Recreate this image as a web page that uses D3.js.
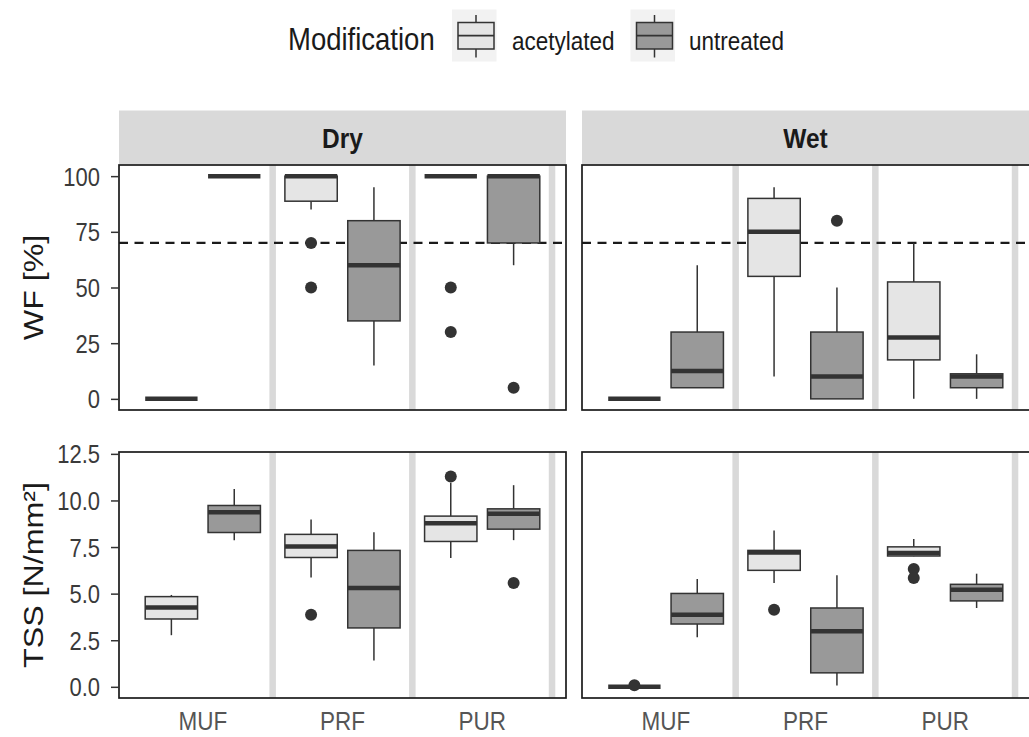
<!DOCTYPE html>
<html>
<head>
<meta charset="utf-8">
<script src="https://cdn.jsdelivr.net/npm/d3@7"></script>
<style>
  body { margin: 0; background: #fff; }
  svg { display: block; }
  text { font-family: "Liberation Sans", Arial, sans-serif; }
</style>
</head>
<body>
<div id="chart"></div>
<script>
// categories
const materials = ["MUF", "PRF", "PUR"];
const modifications = ["acetylated", "untreated"];
const conditions = ["Dry", "Wet"];

// box stats: [material, modification, lower whisker, q1, median, q3, upper whisker, outliers]
const wfDry = [
  ["MUF", "acetylated", 0, 0, 0, 0, 0, []],
  ["MUF", "untreated", 100, 100, 100, 100, 100, []],
  ["PRF", "acetylated", 85, 88.75, 100, 100, 100, [70, 50]],
  ["PRF", "untreated", 15, 35, 60, 80, 95, []],
  ["PUR", "acetylated", 100, 100, 100, 100, 100, [50, 30]],
  ["PUR", "untreated", 60, 70, 100, 100, 100, [5]]
];
const wfWet = [
  ["MUF", "acetylated", 0, 0, 0, 0, 0, []],
  ["MUF", "untreated", 5, 5, 12.5, 30, 60, []],
  ["PRF", "acetylated", 10, 55, 75, 90, 95, []],
  ["PRF", "untreated", 0, 0, 10, 30, 50, [80]],
  ["PUR", "acetylated", 0, 17.5, 27.5, 52.5, 70, []],
  ["PUR", "untreated", 0, 5, 10, 11.25, 20, []]
];
const tssDry = [
  ["MUF", "acetylated", 2.77, 3.64, 4.25, 4.84, 4.93, []],
  ["MUF", "untreated", 7.87, 8.28, 9.37, 9.73, 10.62, []],
  ["PRF", "acetylated", 5.86, 6.94, 7.53, 8.18, 8.98, [3.87]],
  ["PRF", "untreated", 1.41, 3.16, 5.3, 7.32, 8.3, []],
  ["PUR", "acetylated", 6.91, 7.8, 8.78, 9.16, 10.95, [11.28]],
  ["PUR", "untreated", 7.87, 8.46, 9.28, 9.55, 10.82, [5.57]]
];
const tssWet = [
  ["MUF", "acetylated", 0, 0, 0, 0, 0, [0.08]],
  ["MUF", "untreated", 2.66, 3.37, 3.87, 5.01, 5.78, []],
  ["PRF", "acetylated", 5.57, 6.25, 7.21, 7.32, 8.39, [4.14]],
  ["PRF", "untreated", 0.07, 0.75, 2.98, 4.23, 5.98, []],
  ["PUR", "acetylated", 7.0, 7.02, 7.18, 7.51, 7.93, [6.32, 5.84]],
  ["PUR", "untreated", 4.23, 4.61, 5.21, 5.5, 6.07, []]
];

// tick labels
const wfTicks = [0, 25, 50, 75, 100];
const wfTickLabels = ["0", "25", "50", "75", "100"];
const tssTicks = [0, 2.5, 5, 7.5, 10, 12.5];
const tssTickLabels = ["0.0", "2.5", "5.0", "7.5", "10.0", "12.5"];
const wfThreshold = 70;

const width = 1029, height = 737;
const SY = 1.15; // picture is a bit taller than wide, stretch the text the same way
const fills = { acetylated: "#e5e5e5", untreated: "#999999" };
const ink = "#333333";

const panelX = { Dry: [119, 566], Wet: [582, 1029] };
const rows = [
  { key: "wf", title: "WF [%]", top: 165, bottom: 410, domain: [-5, 105], ticks: wfTicks, labels: wfTickLabels,
    data: { Dry: wfDry, Wet: wfWet }, threshold: wfThreshold },
  { key: "tss", title: "TSS [N/mm²]", top: 452, bottom: 698, domain: [-0.6, 12.6], ticks: tssTicks, labels: tssTickLabels,
    data: { Dry: tssDry, Wet: tssWet } }
];

const svg = d3.select("#chart").append("svg")
  .attr("width", width)
  .attr("height", height)
  .attr("viewBox", [0, 0, width, height]);

function stretched(sel, x, y) {
  return sel.attr("transform", `translate(${x},${y}) scale(1,${SY})`);
}

// legend
stretched(svg.append("text"), 288, 49.5)
  .attr("font-size", 27.5).attr("fill", "#1a1a1a").text("Modification");

const legendKeys = [
  { mod: "acetylated", x0: 452, textX: 512 },
  { mod: "untreated", x0: 630.5, textX: 689 }
];
legendKeys.forEach(k => {
  const g = svg.append("g");
  g.append("rect").attr("x", k.x0).attr("y", 9.5).attr("width", 44.5).attr("height", 52).attr("fill", "#f2f2f2");
  const cx = k.x0 + 24;
  g.append("line").attr("x1", cx).attr("x2", cx).attr("y1", 15).attr("y2", 57.5)
    .attr("stroke", ink).attr("stroke-width", 1.5);
  g.append("rect").attr("x", k.x0 + 6).attr("y", 22.5).attr("width", 36).attr("height", 26.5)
    .attr("fill", fills[k.mod]).attr("stroke", ink).attr("stroke-width", 1.5);
  g.append("line").attr("x1", k.x0 + 6).attr("x2", k.x0 + 42).attr("y1", 35.7).attr("y2", 35.7)
    .attr("stroke", ink).attr("stroke-width", 1.8);
  stretched(g.append("text"), k.textX, 49.5)
    .attr("font-size", 22.5).attr("fill", "#1a1a1a").text(k.mod);
});

// strips (right one runs past the picture edge, as in the source)
conditions.forEach(c => {
  const [x0, x1] = panelX[c];
  const w = c === "Wet" ? x1 - x0 + 4 : x1 - x0;
  svg.append("rect").attr("x", x0).attr("y", 110.5).attr("width", w).attr("height", 53.5).attr("fill", "#d9d9d9");
  stretched(svg.append("text"), (x0 + x1) / 2, 148)
    .attr("font-size", 24.5).attr("font-weight", "bold").attr("fill", "#1a1a1a")
    .attr("text-anchor", "middle").text(c);
});

rows.forEach((row, ri) => {
  const y = d3.scaleLinear().domain(row.domain).range([row.bottom, row.top]);

  conditions.forEach((c, ci) => {
    const [x0, x1] = panelX[c];
    const x = d3.scaleBand(materials, [x0, x1]).paddingInner(0).paddingOuter(0.1);
    const step = x.step();
    const xd = d3.scaleBand(modifications, [-0.45 * step, 0.45 * step]);
    const boxW = xd.bandwidth() * 0.833;
    const frameW = c === "Wet" ? x1 - x0 + 4 : x1 - x0;
    const g = svg.append("g");

    g.append("rect").attr("x", x0).attr("y", row.top).attr("width", frameW).attr("height", row.bottom - row.top)
      .attr("fill", "#fff");

    // gray separators between materials
    g.append("g").selectAll("line")
      .data(materials)
      .join("line")
      .attr("x1", d => x(d) + step).attr("x2", d => x(d) + step)
      .attr("y1", row.top).attr("y2", row.bottom)
      .attr("stroke", "#d9d9d9").attr("stroke-width", 6.5);

    if (row.threshold !== undefined) {
      g.append("line")
        .attr("x1", x0).attr("x2", x1)
        .attr("y1", y(row.threshold)).attr("y2", y(row.threshold))
        .attr("stroke", "#1a1a1a").attr("stroke-width", 2.2).attr("stroke-dasharray", "9,6.5");
    }

    const boxes = row.data[c].map(d => ({
      mat: d[0], mod: d[1], lo: d[2], q1: d[3], med: d[4], q3: d[5], hi: d[6], out: d[7],
      cx: x(d[0]) + step / 2 + xd(d[1]) + xd.bandwidth() / 2
    }));

    const b = g.append("g").selectAll("g").data(boxes).join("g");
    b.append("line").attr("x1", d => d.cx).attr("x2", d => d.cx)
      .attr("y1", d => y(d.hi)).attr("y2", d => y(d.q3))
      .attr("stroke", ink).attr("stroke-width", 1.5);
    b.append("line").attr("x1", d => d.cx).attr("x2", d => d.cx)
      .attr("y1", d => y(d.q1)).attr("y2", d => y(d.lo))
      .attr("stroke", ink).attr("stroke-width", 1.5);
    b.append("rect")
      .attr("x", d => d.cx - boxW / 2).attr("width", boxW)
      .attr("y", d => y(d.q3)).attr("height", d => y(d.q1) - y(d.q3))
      .attr("fill", d => fills[d.mod]).attr("stroke", ink).attr("stroke-width", 1.5);
    b.append("line")
      .attr("x1", d => d.cx - boxW / 2).attr("x2", d => d.cx + boxW / 2)
      .attr("y1", d => y(d.med)).attr("y2", d => y(d.med))
      .attr("stroke", ink).attr("stroke-width", 4.5);
    b.selectAll("circle")
      .data(d => d.out.map(v => ({ cx: d.cx, v })))
      .join("circle")
      .attr("cx", d => d.cx).attr("cy", d => y(d.v)).attr("r", 6)
      .attr("fill", ink);

    // panel border
    g.append("rect").attr("x", x0).attr("y", row.top).attr("width", frameW).attr("height", row.bottom - row.top)
      .attr("fill", "none").attr("stroke", "#1a1a1a").attr("stroke-width", 1.7);

    if (ci === 0) {
      const ax = g.append("g")
        .attr("transform", `translate(${x0},0)`)
        .call(d3.axisLeft(y).tickValues(row.ticks).tickSize(8).tickPadding(11)
          .tickFormat((d, i) => row.labels[i]));
      ax.select(".domain").remove();
      ax.selectAll(".tick line").attr("stroke", ink).attr("stroke-width", 1.5);
      ax.selectAll(".tick text")
        .attr("font-size", 22).attr("fill", "#3a3a3a")
        .attr("dy", "0.36em").attr("transform", `scale(1,${SY})`);
      ax.attr("font-family", null).attr("font-size", null);

      svg.append("text")
        .attr("transform", `translate(43,${(row.top + row.bottom) / 2}) rotate(-90) scale(${SY},1)`)
        .attr("text-anchor", "middle").attr("font-size", 28).attr("fill", "#1a1a1a")
        .text(row.title);
    }

    if (ri === rows.length - 1) {
      const axb = g.append("g")
        .attr("transform", `translate(0,${row.bottom})`)
        .call(d3.axisBottom(x).tickSize(0));
      axb.select(".domain").remove();
      axb.selectAll(".tick text")
        .attr("font-size", 22.5).attr("fill", "#555555")
        .attr("y", 32.5 / SY).attr("dy", 0).attr("transform", `scale(1,${SY})`);
      axb.attr("font-family", null).attr("font-size", null);
    }
  });
});
</script>
</body>
</html>
